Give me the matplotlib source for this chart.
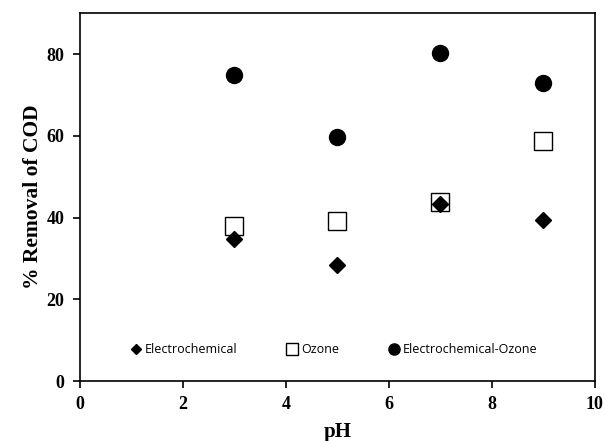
import matplotlib.pyplot as plt

# pH values and % COD removal
ph = [3, 5, 7, 9]
electrochemical = [34.7, 28.5, 43.2, 39.3]
ozone = [38.0, 39.2, 43.8, 58.8]
electro_ozone = [74.8, 59.8, 80.2, 73.0]

series_labels = ['Electrochemical', 'Ozone', 'Electrochemical-Ozone']

fig = plt.figure(figsize=(6.05, 4.41), dpi=100)
ax = fig.add_axes([0.132, 0.136, 0.851, 0.834])

# squares drawn first so the diamonds sit on top of them
ax.plot(ph, ozone, 's', markerfacecolor='white', markeredgecolor='black',
        markeredgewidth=1.0, markersize=13, label=series_labels[1], zorder=2)
ax.plot(ph, electrochemical, 'D', color='black', markersize=8, label=series_labels[0], zorder=3)
ax.plot(ph, electro_ozone, 'o', color='black', markersize=11.5, label=series_labels[2], zorder=3)

ax.set_xlim(0, 10)
ax.set_ylim(0, 90)
ax.set_xticks([0, 2, 4, 6, 8, 10])
ax.set_yticks([0, 20, 40, 60, 80])

serif = {'family': 'Liberation Serif', 'weight': 'bold'}
for lab in ax.get_xticklabels() + ax.get_yticklabels():
    lab.set_fontfamily('Liberation Serif')
    lab.set_fontweight('bold')
    lab.set_fontsize(13)

ax.set_xlabel('pH', fontdict=serif, fontsize=15, labelpad=6)
ax.set_ylabel('% Removal of COD', fontdict=serif, fontsize=15.5, labelpad=3)

ax.tick_params(direction='out', length=5, width=1.2, colors='black', pad=6)
for sp in ax.spines.values():
    sp.set_linewidth(1.2)

h, l = ax.get_legend_handles_labels()
order = [1, 0, 2]
ax.legend([h[i] for i in order], [l[i] for i in order],
          loc='center left', bbox_to_anchor=(0.075, 0.085), ncol=3, frameon=False,
          prop={'family': 'Open Sans', 'size': 9}, handletextpad=0.2,
          columnspacing=3.9, markerscale=0.7, handlelength=1.0)

fig.savefig('out.png', dpi=100)
